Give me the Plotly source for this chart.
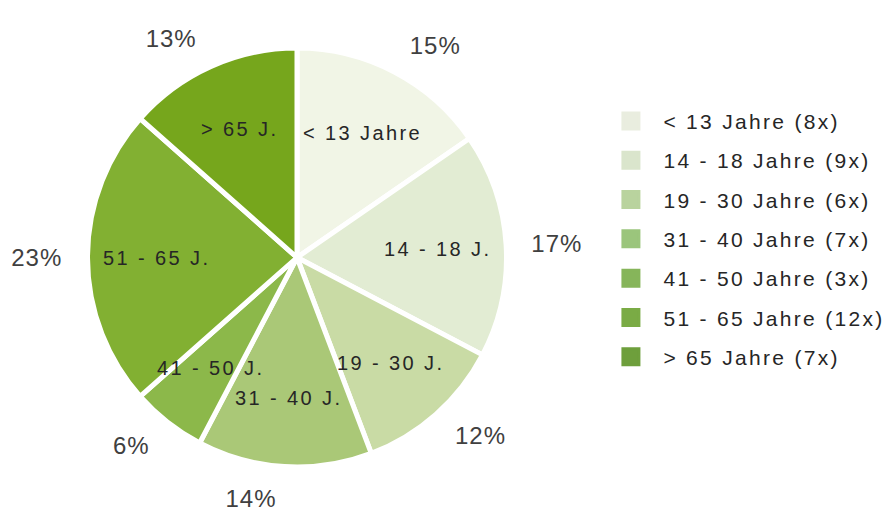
import math
import plotly.graph_objects as go

categories = ["< 13 Jahre", "14 - 18 Jahre", "19 - 30 Jahre", "31 - 40 Jahre",
              "41 - 50 Jahre", "51 - 65 Jahre", "> 65 Jahre"]
short_labels = ["< 13 Jahre", "14 - 18 J.", "19 - 30 J.", "31 - 40 J.",
                "41 - 50 J.", "51 - 65 J.", "> 65 J."]
counts = [8, 9, 6, 7, 3, 12, 7]
pct_labels = ["15%", "17%", "12%", "14%", "6%", "23%", "13%"]
slice_colors = ["#f1f5e6", "#e2ecd3", "#c9dba5", "#aac877", "#8cb84a", "#82b032", "#76a61c"]
legend_colors = ["#e9eddf", "#dae5cc", "#b9d39e", "#9bc57c", "#86b55a", "#7aab45", "#6e9f3c"]

W, H = 888, 507
FONT = "Liberation Sans, Arial, sans-serif"
cx, cy = 297, 257.5      # pie centre (px from top-left)
R = 209.5                # pie radius incl. half border
R_OUT = 228              # invisible pie carrying the percentage labels
LABEL_FRAC = 0.68        # inside-label distance as fraction of radius


def dom(r):
    return dict(x=[(cx - r) / W, (cx + r) / W],
                y=[(H - cy - r) / H, (H - cy + r) / H])


def spaced(s, ls):
    return f'<span style="letter-spacing:{ls}px">{s}</span>'


fig = go.Figure()
fig.add_trace(go.Pie(
    values=counts, labels=categories, text=[spaced(p, 1) for p in pct_labels],
    textinfo="text", textposition="outside", sort=False, direction="clockwise",
    rotation=0, marker=dict(colors=["rgba(0,0,0,0)"] * len(counts), line=dict(width=0)),
    domain=dom(R_OUT), showlegend=False, hoverinfo="skip",
    outsidetextfont=dict(size=24, color="#404040", family=FONT),
))
fig.add_trace(go.Pie(
    values=counts, labels=categories, textinfo="none",
    sort=False, direction="clockwise", rotation=0,
    marker=dict(colors=slice_colors, line=dict(color="white", width=5)),
    domain=dom(R), showlegend=False,
))

# inside labels at the middle angle of each slice
total = sum(counts)
cum = 0
for lab, n in zip(short_labels, counts):
    mid = (cum + n / 2) / total * 2 * math.pi
    cum += n
    d = LABEL_FRAC * (R - 2.5)
    px = cx + d * math.sin(mid)
    py = cy - d * math.cos(mid)
    fig.add_annotation(x=px / W, y=1 - py / H, xref="paper", yref="paper",
                       xanchor="center", yanchor="middle",
                       text=spaced(lab, 2.4), showarrow=False,
                       font=dict(size=20, color="#262626", family=FONT))

for i, (cat, n) in enumerate(zip(categories, counts)):
    fig.add_trace(go.Scatter(
        x=[None], y=[None], mode="markers", name=spaced(f"{cat} ({n}x)", 2.3),
        marker=dict(symbol="square", size=16, color=legend_colors[i],
                    line=dict(color=legend_colors[i], width=3)),
        legendgroup=f"g{i}", showlegend=True, hoverinfo="skip",
    ))

fig.update_layout(
    width=W, height=H, margin=dict(l=0, r=0, t=0, b=0, autoexpand=False),
    paper_bgcolor="white", plot_bgcolor="white",
    xaxis=dict(visible=False, automargin=False),
    yaxis=dict(visible=False, automargin=False),
    legend=dict(x=0.6739, y=0.528, xanchor="left", yanchor="middle",
                font=dict(size=21, color="#262626", family=FONT),
                tracegroupgap=9, itemwidth=55),
    font=dict(family=FONT),
)
fig.write_html("out.html", config={"displayModeBar": False},
               post_script="document.body.style.margin='0';")
